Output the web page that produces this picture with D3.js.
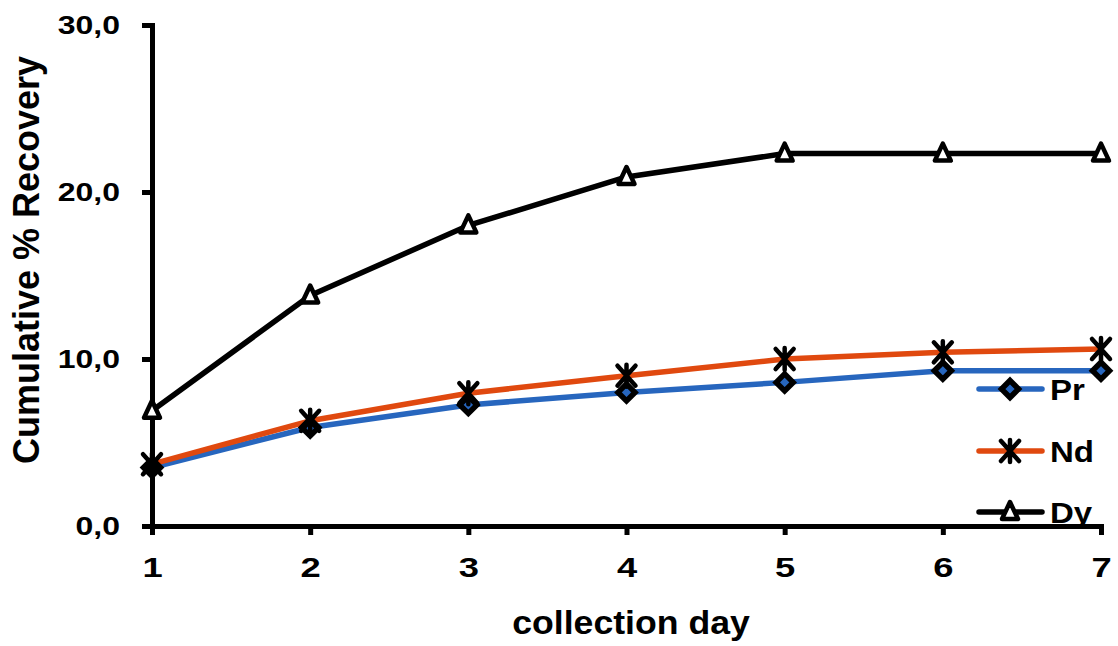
<!DOCTYPE html>
<html>
<head>
<meta charset="utf-8">
<script src="https://cdn.jsdelivr.net/npm/d3@7"></script>
<style>
  html, body { margin: 0; padding: 0; background: #fff; }
  svg { display: block; font-family: "Liberation Sans", Arial, sans-serif; font-weight: bold; }
</style>
</head>
<body>
<svg id="chart" width="1118" height="646"></svg>
<script>
// Collection days on the x axis
const days = [1, 2, 3, 4, 5, 6, 7];
// Cumulative % recovery per element
const pr = [3.5, 5.9, 7.25, 8.0, 8.6, 9.3, 9.3];
const nd = [3.7, 6.3, 7.95, 9.0, 10.0, 10.4, 10.6];
const dy = [6.9, 13.8, 18.0, 20.9, 22.3, 22.3, 22.3];
const yTicks = [0, 10, 20, 30];
const seriesNames = ["Pr", "Nd", "Dy"];

const svg = d3.select("#chart");
const x = d3.scaleLinear().domain([1, 7]).range([152, 1101]);
const y = d3.scaleLinear().domain([0, 30]).range([526, 25]);

const fmt = v => d3.format(".1f")(v).replace(".", ",");
const FONT = "'Liberation Sans', Arial, sans-serif";

const series = [
  { name: seriesNames[0], values: pr, color: "#2766BE", marker: "diamond" },
  { name: seriesNames[1], values: nd, color: "#E0490F", marker: "star" },
  { name: seriesNames[2], values: dy, color: "#000000", marker: "triangle" }
];

const line = d3.line().x((d, i) => x(days[i])).y(d => y(d));

function drawMarker(g, type, color) {
  if (type === "diamond") {
    g.append("path").attr("d", "M0,-8.5L8.5,0L0,8.5L-8.5,0Z")
      .attr("fill", color).attr("stroke", "#000").attr("stroke-width", 5.5).attr("stroke-linejoin", "miter");
  } else if (type === "star") {
    g.append("path").attr("d", "M-9,-10L9,10M9,-10L-9,10M0,-11V11")
      .attr("fill", "none").attr("stroke", "#000").attr("stroke-width", 4.5).attr("stroke-linecap", "round");
  } else {
    g.append("path").attr("d", "M0,-10L8,7L-8,7Z")
      .attr("fill", "#fff").attr("stroke", "#000").attr("stroke-width", 4.5).attr("stroke-linejoin", "round");
  }
}

// Legend (drawn first so the x axis sits on top of it)
const legendY = [389, 451, 512];
series.forEach((s, i) => {
  const g = svg.append("g").attr("transform", `translate(0,${legendY[i]})`);
  g.append("line").attr("x1", 979).attr("x2", 1042).attr("y1", 0).attr("y2", 0)
    .attr("stroke", s.color).attr("stroke-width", 5.5).attr("stroke-linecap", "round");
  const m = g.append("g").attr("transform", "translate(1010,0)");
  drawMarker(m, s.marker, s.color);
  g.append("text").attr("transform", "translate(1050,0) scale(1.1,1)")
    .attr("dy", "0.36em").attr("font-size", 30).text(s.name);
});

// Axes
const yAxis = svg.append("g").attr("transform", `translate(${x(1)},0)`)
  .call(d3.axisLeft(y).tickValues(yTicks).tickFormat(fmt).tickSize(10).tickSizeOuter(10).tickPadding(22));
const xAxis = svg.append("g").attr("transform", `translate(0,${y(0)})`)
  .call(d3.axisBottom(x).tickValues(days).tickFormat(d3.format("d")).tickSize(9).tickSizeOuter(9).tickPadding(22));
[yAxis, xAxis].forEach(g => {
  g.select(".domain").attr("stroke", "#000").attr("stroke-width", 5);
  g.selectAll(".tick line").attr("stroke", "#000").attr("stroke-width", 5);
  g.selectAll(".tick text").attr("fill", "#000")
    .attr("font-family", FONT).attr("font-weight", "bold");
});
// Wide bold tick lettering
const ySx = 1.28;
yAxis.selectAll(".tick text").attr("font-size", 25)
  .attr("x", -32 / ySx).attr("transform", `scale(${ySx},1)`);
const xSx = 1.3;
xAxis.selectAll(".tick text").attr("font-size", 28)
  .attr("transform", `scale(${xSx},1)`);

// Axis titles
svg.append("text").attr("transform", "translate(631,634) scale(1.08,1)").attr("text-anchor", "middle")
  .attr("font-size", 33).text("collection day");
svg.append("text").attr("transform", "translate(39,260) rotate(-90)").attr("text-anchor", "middle")
  .attr("font-size", 36).text("Cumulative % Recovery");

// Series lines and markers
series.forEach(s => {
  svg.append("path").datum(s.values).attr("d", line)
    .attr("fill", "none").attr("stroke", s.color).attr("stroke-width", 5.5).attr("stroke-linejoin", "round");
});
series.forEach(s => {
  s.values.forEach((v, i) => {
    const g = svg.append("g").attr("transform", `translate(${x(days[i])},${y(v)})`);
    drawMarker(g, s.marker, s.color);
  });
});
</script>
</body>
</html>
